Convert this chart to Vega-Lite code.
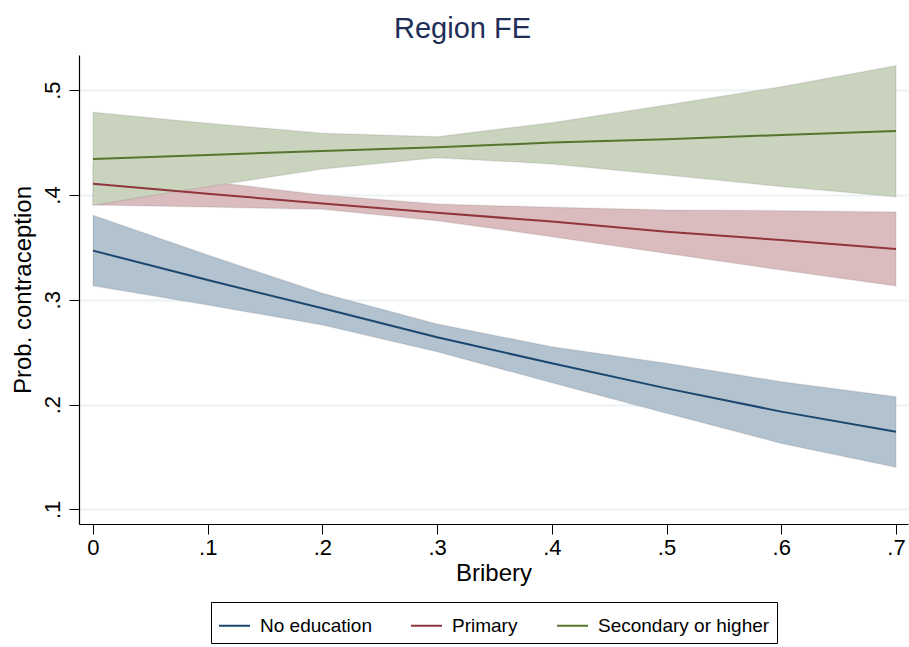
{
  "$schema": "https://vega.github.io/schema/vega-lite/v6.json",
  "width": 829,
  "height": 469,
  "autosize": {"type": "none"},
  "padding": {"left": 79, "top": 55, "right": 1, "bottom": 123},
  "background": "white",
  "config": {
    "font": "Liberation Sans",
    "view": {"stroke": null}
  },
  "title": {
    "text": "Region FE",
    "fontSize": 29,
    "font": "Liberation Sans",
    "fontWeight": "normal",
    "color": "#1e2d59",
    "anchor": "middle",
    "dx": -31,
    "offset": -12,
    "baseline": "alphabetic"
  },
  "data": {
    "values": [
      {"bribery": 0.0, "group": "No education", "mean": 0.3469, "lo": 0.3135, "hi": 0.3806},
      {"bribery": 0.1, "group": "No education", "mean": 0.3189, "lo": 0.2950, "hi": 0.3427},
      {"bribery": 0.2, "group": "No education", "mean": 0.2919, "lo": 0.2760, "hi": 0.3062},
      {"bribery": 0.3, "group": "No education", "mean": 0.2642, "lo": 0.2505, "hi": 0.2769},
      {"bribery": 0.4, "group": "No education", "mean": 0.2394, "lo": 0.2209, "hi": 0.2553},
      {"bribery": 0.5, "group": "No education", "mean": 0.2155, "lo": 0.1917, "hi": 0.2394},
      {"bribery": 0.6, "group": "No education", "mean": 0.1933, "lo": 0.1630, "hi": 0.2219},
      {"bribery": 0.7, "group": "No education", "mean": 0.1742, "lo": 0.1402, "hi": 0.2075},
      {"bribery": 0.0, "group": "Primary", "mean": 0.4108, "lo": 0.3905, "hi": 0.4300},
      {"bribery": 0.1, "group": "Primary", "mean": 0.4012, "lo": 0.3885, "hi": 0.4130},
      {"bribery": 0.2, "group": "Primary", "mean": 0.3920, "lo": 0.3864, "hi": 0.4000},
      {"bribery": 0.3, "group": "Primary", "mean": 0.3831, "lo": 0.3755, "hi": 0.3914},
      {"bribery": 0.4, "group": "Primary", "mean": 0.3746, "lo": 0.3602, "hi": 0.3882},
      {"bribery": 0.5, "group": "Primary", "mean": 0.3650, "lo": 0.3443, "hi": 0.3857},
      {"bribery": 0.6, "group": "Primary", "mean": 0.3570, "lo": 0.3284, "hi": 0.3850},
      {"bribery": 0.7, "group": "Primary", "mean": 0.3485, "lo": 0.3132, "hi": 0.3838},
      {"bribery": 0.0, "group": "Secondary or higher", "mean": 0.4344, "lo": 0.3902, "hi": 0.4789},
      {"bribery": 0.1, "group": "Secondary or higher", "mean": 0.4382, "lo": 0.4080, "hi": 0.4684},
      {"bribery": 0.2, "group": "Secondary or higher", "mean": 0.4420, "lo": 0.4248, "hi": 0.4589},
      {"bribery": 0.3, "group": "Secondary or higher", "mean": 0.4455, "lo": 0.4356, "hi": 0.4556},
      {"bribery": 0.4, "group": "Secondary or higher", "mean": 0.4500, "lo": 0.4296, "hi": 0.4690},
      {"bribery": 0.5, "group": "Secondary or higher", "mean": 0.4531, "lo": 0.4191, "hi": 0.4859},
      {"bribery": 0.6, "group": "Secondary or higher", "mean": 0.4573, "lo": 0.4080, "hi": 0.5033},
      {"bribery": 0.7, "group": "Secondary or higher", "mean": 0.4611, "lo": 0.3984, "hi": 0.5234}
    ]
  },
  "encoding": {
    "x": {
      "field": "bribery",
      "type": "quantitative",
      "scale": {"domain": [-0.0122, 0.7105], "nice": false, "zero": false},
      "axis": {
        "title": "Bribery",
        "values": [0, 0.1, 0.2, 0.3, 0.4, 0.5, 0.6, 0.7],
        "labelExpr": "datum.value == 0 ? '0' : replace(format(datum.value, '.1f'), '0.', '.')",
        "grid": false,
        "tickSize": 10,
        "tickColor": "black",
        "tickWidth": 1,
        "domainColor": "black",
        "domainWidth": 1.2,
        "labelFontSize": 22,
        "labelColor": "black",
        "labelPadding": 3,
        "labelFlush": false,
        "titleFontSize": 24,
        "titleFontWeight": "normal",
        "titleColor": "black",
        "titlePadding": 3
      }
    }
  },
  "resolve": {"scale": {"color": "independent"}, "legend": {"color": "independent"}},
  "layer": [
    {
      "mark": {"type": "area", "stroke": "#000000", "strokeOpacity": 0.08, "strokeWidth": 1.5, "opacity": 1},
      "encoding": {
        "y": {
          "field": "lo",
          "type": "quantitative",
          "scale": {"domain": [0.08607, 0.53359], "nice": false, "zero": false},
          "axis": {
            "title": "Prob. contraception",
            "values": [0.1, 0.2, 0.3, 0.4, 0.5],
            "labelExpr": "replace(format(datum.value, '.1f'), '0.', '.')",
            "labelAngle": -90,
            "labelAlign": "center",
            "labelBaseline": "alphabetic",
            "labelPadding": 10,
            "grid": true,
            "gridColor": "#eaf2f3",
            "gridWidth": 2,
            "tickSize": 10,
            "tickColor": "black",
            "tickWidth": 1,
            "domainColor": "black",
            "domainWidth": 1.2,
            "labelFontSize": 22,
            "labelColor": "black",
            "titleFontSize": 24,
            "titleFontWeight": "normal",
            "titleColor": "black",
            "titlePadding": 6
          }
        },
        "y2": {"field": "hi"},
        "color": {
          "field": "group",
          "type": "nominal",
          "scale": {"domain": ["No education", "Primary", "Secondary or higher"], "range": ["#b3c2cf", "#dabcbe", "#c9d3bd"]},
          "legend": null
        }
      }
    },
    {
      "mark": {"type": "line", "strokeWidth": 2},
      "encoding": {
        "y": {"field": "mean", "type": "quantitative"},
        "color": {
          "field": "group",
          "type": "nominal",
          "scale": {"domain": ["No education", "Primary", "Secondary or higher"], "range": ["#1a476f", "#90353b", "#55752f"]},
          "legend": {
            "orient": "none",
            "legendX": 132,
            "legendY": 547,
            "direction": "horizontal",
            "title": null,
            "symbolType": "stroke",
            "symbolSize": 961,
            "symbolStrokeWidth": 2,
            "labelFontSize": 19,
            "labelColor": "black",
            "labelOffset": 9,
            "labelLimit": 400,
            "columnPadding": 35,
            "padding": 7,
            "strokeColor": "black",
            "fillColor": "white"
          }
        }
      }
    }
  ]
}
